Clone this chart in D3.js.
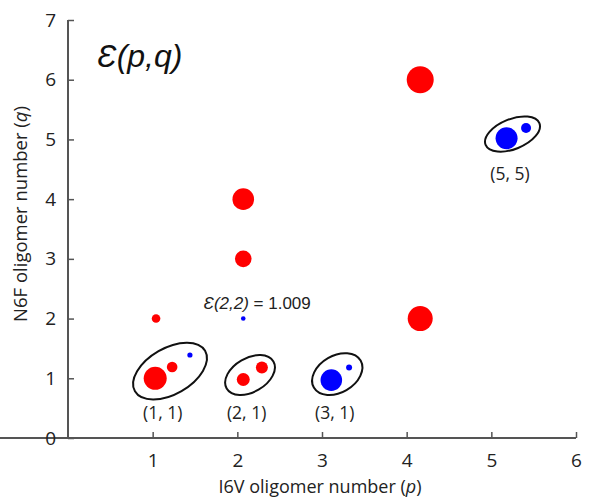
<!DOCTYPE html>
<html><head><meta charset="utf-8">
<script src="https://cdn.jsdelivr.net/npm/d3@7"></script>
<style>
body{margin:0;background:#fff;}
svg{display:block;}
</style></head>
<body>
<svg id="chart" width="603" height="497"></svg>
<script>
// ---- data ----
const xTicks = [1, 2, 3, 4, 5, 6];
const yTicks = [0, 1, 2, 3, 4, 5, 6, 7];
const xTitle = "I6V oligomer number (";
const yTitle = "N6F oligomer number (";
// red circles: p, q, radius
const redP = [1.03, 1.23, 1.04, 2.07, 2.29, 2.07, 2.07, 4.16, 4.16];
const redQ = [1.00, 1.19, 2.00, 0.98, 1.18, 3.00, 4.00, 2.00, 6.00];
const redR = [11.5, 5.3, 4.3, 6.5, 6.0, 8.3, 10.8, 12.5, 13.5];
// blue circles
const blueP = [1.44, 2.07, 3.11, 3.32, 5.18, 5.41];
const blueQ = [1.39, 2.00, 0.97, 1.18, 5.02, 5.19];
const blueR = [2.6, 2.3, 10.8, 3.0, 11.0, 5.0];
// encircled groups
const groupLabels = ["(1, 1)", "(2, 1)", "(3, 1)", "(5, 5)"];
const groupP = [1.205, 2.15, 3.18, 5.25];
const groupQ = [1.12, 1.055, 1.07, 5.09];
const labelP = [1.12, 2.11, 3.15, 5.22];
const labelQ = [0.32, 0.32, 0.32, 4.32];
const titleText = "(p,q)";
const annotText = "(2,2) = 1.009";
const annotP = 1.60, annotQ = 2.16;

// ---- drawing ----
const svg = d3.select("#chart");
const x = d3.scaleLinear().domain([0, 6]).range([68, 576]);
const y = d3.scaleLinear().domain([0, 7]).range([438, 20]);
const axisColor = "#555";
const font = "'Open Sans', sans-serif";
const sans = "'Liberation Sans', Arial, sans-serif";

const gx = svg.append("g").attr("transform", `translate(0,${y(0)})`)
  .call(d3.axisBottom(x).tickValues(xTicks).tickFormat(d3.format("d"))
    .tickSizeInner(-6).tickSizeOuter(0).tickPadding(16));
const gy = svg.append("g").attr("transform", `translate(${x(0)},0)`)
  .call(d3.axisLeft(y).tickValues(yTicks).tickFormat(d3.format("d"))
    .tickSizeInner(-6).tickSizeOuter(0).tickPadding(12));
[gx, gy].forEach(g => {
  g.select(".domain").attr("stroke", axisColor).attr("stroke-width", 2);
  g.selectAll(".tick line").attr("stroke", axisColor).attr("stroke-width", 1.5);
  g.selectAll(".tick text").attr("fill", "#222").style("font-family", font).style("font-size", "19px");
});
gy.select(".domain").attr("d", `M0,${y(7)}V${y(0)}`);
gx.select(".domain").attr("d", `M0,0H${x(6)}`);

// axis titles
const xt = svg.append("text").attr("x", 320).attr("y", 493).attr("text-anchor", "middle")
  .style("font-family", font).style("font-size", "18px").attr("fill", "#222");
xt.append("tspan").text(xTitle);
xt.append("tspan").style("font-style", "italic").text("p");
xt.append("tspan").text(")");
const yt = svg.append("text").attr("transform", "translate(27,214) rotate(-90)").attr("text-anchor", "middle")
  .style("font-family", font).style("font-size", "18.5px").attr("fill", "#222");
yt.append("tspan").text(yTitle);
yt.append("tspan").style("font-style", "italic").text("q");
yt.append("tspan").text(")");

// title
const tt = svg.append("text").attr("x", 97).attr("y", 67)
  .style("font-family", sans).style("font-size", "32px")
  .style("font-style", "italic").attr("fill", "#111");
tt.append("tspan").text("\u0190");
tt.append("tspan").text(titleText);

// ellipses
const ellA = [40.5, 27, 27, 29];
const ellB = [23, 17, 18.5, 15];
const ellAng = [-30, -30, -30, -22];
svg.append("g").selectAll("ellipse").data(groupP).join("ellipse")
  .attr("transform", (d, i) => `translate(${x(d)},${y(groupQ[i])}) rotate(${ellAng[i]})`)
  .attr("rx", (d, i) => ellA[i]).attr("ry", (d, i) => ellB[i])
  .attr("fill", "none").attr("stroke", "#111").attr("stroke-width", 2);

// circles
svg.append("g").selectAll("circle").data(redP).join("circle")
  .attr("cx", d => x(d)).attr("cy", (d, i) => y(redQ[i])).attr("r", (d, i) => redR[i])
  .attr("fill", "#ff0000");
svg.append("g").selectAll("circle").data(blueP).join("circle")
  .attr("cx", d => x(d)).attr("cy", (d, i) => y(blueQ[i])).attr("r", (d, i) => blueR[i])
  .attr("fill", "#0000ff");

// group labels
svg.append("g").selectAll("text").data(groupLabels).join("text")
  .attr("x", (d, i) => x(labelP[i])).attr("y", (d, i) => y(labelQ[i]))
  .attr("text-anchor", "middle").style("font-family", font).style("font-size", "17.5px")
  .attr("fill", "#222").text(d => d);

// annotation
const an = svg.append("text").attr("x", x(annotP)).attr("y", y(annotQ))
  .style("font-family", sans).style("font-size", "17px").attr("fill", "#222");
an.append("tspan").style("font-style", "italic").text("\u0190");
an.append("tspan").style("font-style", "italic").text(annotText.slice(0, 6));
an.append("tspan").text(annotText.slice(6));
</script>
</body></html>
